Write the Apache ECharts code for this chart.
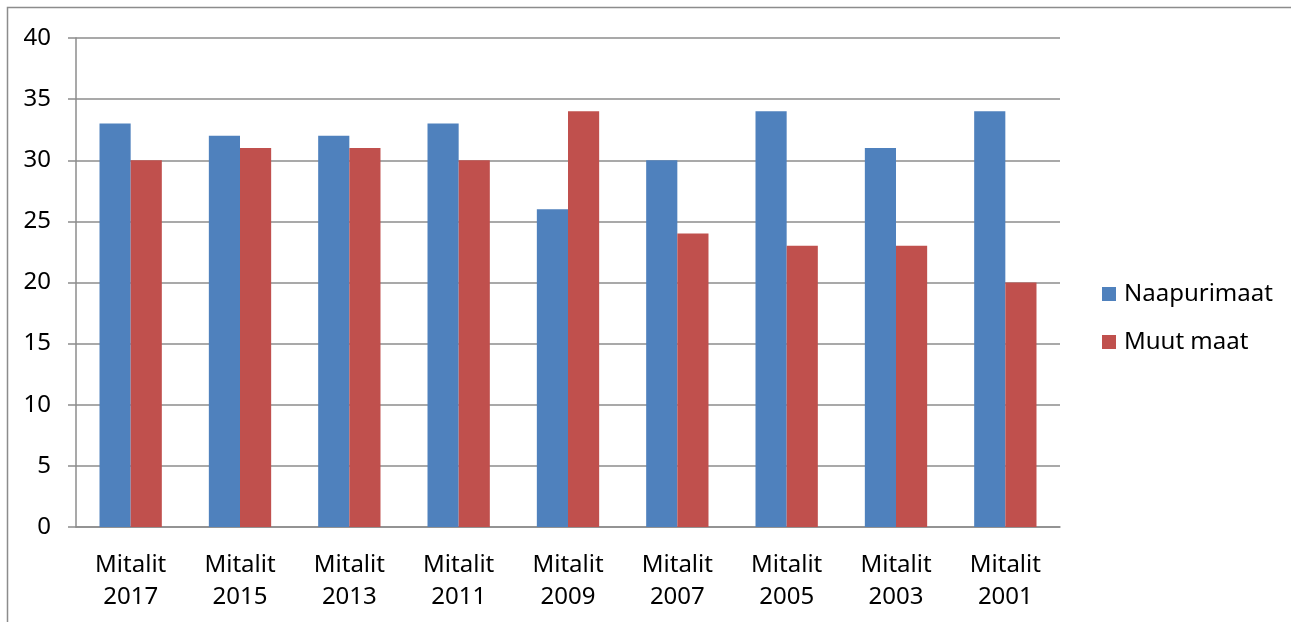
<!DOCTYPE html>
<html>
<head>
<meta charset="utf-8">
<script src="https://cdn.jsdelivr.net/npm/echarts@6/dist/echarts.min.js"></script>
<style>
html,body{margin:0;padding:0;background:#fff;}
#c{width:1291px;height:622px;}
</style>
</head>
<body>
<div id="c"></div>
<script>
const categories = ['Mitalit\n2017','Mitalit\n2015','Mitalit\n2013','Mitalit\n2011','Mitalit\n2009','Mitalit\n2007','Mitalit\n2005','Mitalit\n2003','Mitalit\n2001'];
const naapurimaat = [33,32,32,33,26,30,34,31,34];
const muutMaat = [30,31,31,30,34,24,23,23,20];
const seriesNames = ['Naapurimaat','Muut maat'];

const FONT = 'Noto Sans';
const chart = echarts.init(document.getElementById('c'), null, {renderer:'canvas'});
chart.setOption({
  animation:false,
  backgroundColor:'#fff',
  textStyle:{fontFamily:FONT},
  graphic:[{type:'rect',shape:{x:7.5,y:7.5,width:1300,height:640},style:{fill:'none',stroke:'#8c8c8c',lineWidth:1.5},silent:true}],
  grid:{left:76,right:231,top:38,bottom:95,containLabel:false},
  legend:{
    orient:'vertical',left:1102,top:282,padding:0,itemWidth:14,itemHeight:14,itemGap:24,
    icon:'rect',
    textStyle:{fontFamily:FONT,fontSize:24,color:'#000',padding:[0,0,0,3]},
    data:seriesNames
  },
  xAxis:{
    type:'category',data:categories,
    axisLine:{lineStyle:{color:'#8c8c8c',width:1.5}},
    axisTick:{length:8,lineStyle:{color:'#8c8c8c',width:1.5}},
    axisLabel:{fontFamily:FONT,fontSize:24,color:'#000',lineHeight:32,margin:22,interval:0}
  },
  yAxis:{
    type:'value',min:0,max:40,interval:5,
    axisLine:{show:true,lineStyle:{color:'#8c8c8c',width:1.5}},
    axisTick:{show:true,length:8,lineStyle:{color:'#8c8c8c',width:1.5}},
    splitLine:{lineStyle:{color:'#8c8c8c',width:1.5}},
    axisLabel:{fontFamily:FONT,fontSize:24,color:'#000',margin:25}
  },
  series:[
    {name:seriesNames[0],type:'bar',data:naapurimaat,itemStyle:{color:'#4F81BD'},barGap:'0%',barCategoryGap:'43%'},
    {name:seriesNames[1],type:'bar',data:muutMaat,itemStyle:{color:'#C0504D'},barGap:'0%',barCategoryGap:'43%'}
  ]
});
</script>
</body>
</html>
